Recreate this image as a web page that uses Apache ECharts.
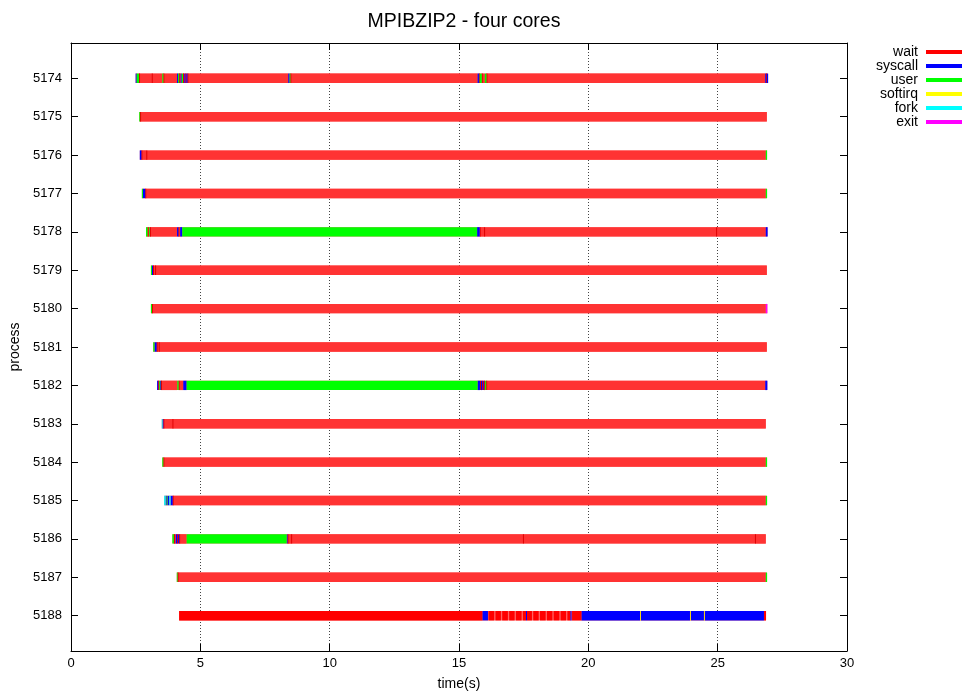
<!DOCTYPE html>
<html><head><meta charset="utf-8">
<script src="https://cdn.jsdelivr.net/npm/echarts@6/dist/echarts.min.js"></script>
<style>html,body{margin:0;padding:0;background:#fff}#c{width:967px;height:691px}</style>
</head><body><div id="c"></div>
<script>
// ---------- data ----------
const processes = ['5174','5175','5176','5177','5178','5179','5180','5181','5182','5183','5184','5185','5186','5187','5188'];
const states = ['wait','syscall','user','softirq','fork','exit'];
const W = 0, S = 1, U = 2, Q = 3, F = 4, X = 5;
const xTicks = [0, 5, 10, 15, 20, 25, 30];

// segments per process: [start (s), end (s), state]
const seg5174 = [[2.50,2.54,S],[2.54,2.63,U],[2.63,3.12,W],[3.12,3.53,W],[3.53,3.57,U],[3.57,4.10,W],
  [4.10,4.14,S],[4.14,4.18,U],[4.18,4.24,W],[4.24,4.28,S],[4.28,4.33,U],[4.33,4.38,W],[4.38,4.42,S],[4.42,4.46,W],[4.46,4.50,S],
  [4.50,8.40,W],[8.40,8.45,S],[8.45,8.48,U],[8.48,15.72,W],[15.72,15.77,S],[15.77,15.80,W],[15.80,15.88,U],[15.88,16.00,W],
  [16.00,16.06,U],[16.06,26.84,W],[26.84,26.87,S],[26.87,26.90,W],[26.90,26.95,S]];
const seg5175 = [[2.64,2.67,U],[2.67,26.90,W]];
const seg5176 = [[2.66,2.72,S],[2.72,2.91,W],[2.91,26.86,W],[26.86,26.91,U]];
const seg5177 = [[2.74,2.78,U],[2.78,2.87,S],[2.87,26.86,W],[26.86,26.91,U]];
const seg5178 = [[2.90,2.96,U],[2.96,3.02,W],[3.02,3.05,U],[3.05,4.10,W],[4.10,4.15,S],[4.15,4.22,W],[4.22,4.30,S],
  [4.30,15.70,U],[15.70,15.80,S],[15.80,15.97,W],[15.97,24.94,W],[24.94,26.86,W],[26.86,26.93,S]];
const seg5179 = [[3.09,3.13,U],[3.13,3.17,S],[3.17,3.25,W],[3.25,26.90,W]];
const seg5180 = [[3.09,3.13,U],[3.13,26.86,W],[26.86,26.92,X]];
const seg5181 = [[3.18,3.23,U],[3.23,3.31,S],[3.31,3.39,W],[3.39,26.90,W]];
const seg5182 = [[3.33,3.37,S],[3.37,3.41,W],[3.41,3.45,U],[3.45,3.48,S],[3.48,4.11,W],[4.11,4.16,U],[4.16,4.34,W],
  [4.34,4.47,S],[4.47,15.72,U],[15.72,15.81,S],[15.81,15.85,W],[15.85,15.89,S],[15.89,15.93,W],[15.93,15.96,S],
  [15.96,16.01,W],[16.01,16.05,U],[16.05,26.84,W],[26.84,26.92,S]];
const seg5183 = [[3.51,3.54,F],[3.54,3.57,S],[3.57,3.92,W],[3.92,26.86,W]];
const seg5184 = [[3.53,3.57,U],[3.57,26.86,W],[26.86,26.91,U]];
const seg5185 = [[3.60,3.66,F],[3.66,3.70,S],[3.70,3.73,U],[3.73,3.80,S],[3.80,3.85,F],[3.85,3.93,S],[3.93,26.86,W],[26.86,26.91,U]];
const seg5186 = [[3.92,3.98,U],[3.98,4.05,W],[4.05,4.10,S],[4.10,4.14,W],[4.14,4.18,S],[4.18,4.47,W],[4.47,8.34,U],
  [8.34,8.37,S],[8.37,8.51,W],[8.51,17.47,W],[17.47,26.44,W],[26.44,26.86,W]];
const seg5187 = [[4.09,4.12,U],[4.12,26.86,W],[26.86,26.91,U]];
const seg5188 = [[4.18,15.91,W],[15.91,16.12,S],[16.14,16.36,W],[16.41,16.62,W],[16.67,16.89,W],[16.94,17.15,W],
  [17.20,17.42,W],[17.47,17.59,W],[17.59,17.63,S],[17.63,17.82,W],[17.87,18.08,W],[18.13,18.35,W],[18.40,18.61,W],
  [18.66,18.88,W],[18.93,19.14,W],[19.19,19.31,W],[19.31,19.35,S],[19.37,19.74,W],[19.74,22.00,S],[22.00,22.03,Q],
  [22.03,23.93,S],[23.93,23.96,Q],[23.96,24.47,S],[24.47,24.50,Q],[24.50,26.79,S],[26.79,26.87,W]];
const segments = [seg5174,seg5175,seg5176,seg5177,seg5178,seg5179,seg5180,seg5181,seg5182,seg5183,seg5184,seg5185,seg5186,seg5187,seg5188];

// ---------- style ----------
const FONT = '"Liberation Sans", Arial, Helvetica, sans-serif';
const stateColors = ['#ff0000','#0000ff','#00ff00','#ffff00','#00ffff','#ff00ff'];
const waitFill = '#ff3333';
const waitMark = '#e00000';
const underlayFill = '#ff6464';
const solidRows = ['5188'];
const BAR = 0.245; // fraction of row spacing

function rowRect(api) {
  const i = api.value(2);
  const a = api.coord([api.value(0), i]);
  const b = api.coord([api.value(1), i]);
  const h = api.size([0, 1])[1] * BAR;
  return {x: a[0], y: a[1] - h / 2, width: Math.max(b[0] - a[0], 0.3), height: h};
}

function makeRender(k) {
  return function (params, api) {
    const r = rowRect(api);
    const solid = solidRows.indexOf(processes[api.value(2)]) >= 0;
    let fill = stateColors[k];
    if (k === W && !solid) fill = waitFill;
    const children = [{type: 'rect', shape: r, style: {fill: fill}}];
    if (k === W && !solid) {
      children.push({type: 'rect', shape: {x: r.x, y: r.y, width: 1, height: r.height}, style: {fill: waitMark}});
    }
    return {type: 'group', children: children};
  };
}

const series = [];
// underlay: row extent
const underlay = segments.map((segs, i) => {
  let mn = Infinity, mx = -Infinity;
  segs.forEach(s => { mn = Math.min(mn, s[0]); mx = Math.max(mx, s[1]); });
  return [mn, mx, i];
});
series.push({
  type: 'custom', name: '_bg', xAxisIndex: 0, yAxisIndex: 0, z: 1, silent: true,
  renderItem: function (params, api) {
    return {type: 'rect', shape: rowRect(api), style: {fill: underlayFill}};
  },
  encode: {x: [0, 1], y: 2}, data: underlay
});
states.forEach((name, k) => {
  const data = [];
  segments.forEach((segs, i) => segs.forEach(s => { if (s[2] === k) data.push([s[0], s[1], i]); }));
  series.push({
    type: 'custom', name: name, xAxisIndex: 0, yAxisIndex: 0, z: 2 + k, silent: true,
    itemStyle: {color: stateColors[k]},
    renderItem: makeRender(k),
    encode: {x: [0, 1], y: 2}, data: data
  });
});

const axisLineStyle = {show: true, onZero: false, lineStyle: {color: '#000', width: 1}};
const rowIdx = processes.map((p, i) => i);
const tickStyle = {show: true, inside: true, length: 7, lineStyle: {color: '#000', width: 1}};
const yMin = -0.92, yMax = 14.92;

const option = {
  animation: false,
  backgroundColor: '#fff',
  title: {
    text: 'MPIBZIP2 - four cores', left: 459, top: 7, textAlign: 'center',
    textStyle: {fontFamily: FONT, fontSize: 19.5, fontWeight: 'normal', color: '#000'}
  },
  legend: {
    orient: 'vertical', right: 5, top: 45, align: 'right', icon: 'rect', padding: 0,
    itemWidth: 36, itemHeight: 4, itemGap: 0, selectedMode: false,
    textStyle: {fontFamily: FONT, fontSize: 14, color: '#000', lineHeight: 14, padding: [0, 3, 0, 0]},
    data: states
  },
  grid: {left: 71, right: 120, top: 43, bottom: 40, containLabel: false, outerBoundsMode: 'none'},
  xAxis: [{
    type: 'value', position: 'bottom', min: xTicks[0], max: xTicks[xTicks.length - 1], interval: 5,
    axisLine: axisLineStyle,
    axisTick: tickStyle,
    axisLabel: {margin: 6, fontFamily: FONT, fontSize: 13, color: '#000'},
    splitLine: {show: true, showMinLine: false, showMaxLine: false, lineStyle: {color: '#444', type: [1, 2], width: 1}},
    name: 'time(s)', nameLocation: 'middle', nameGap: 26,
    nameTextStyle: {fontFamily: FONT, fontSize: 14, color: '#000'}
  }, {
    type: 'value', position: 'top', min: xTicks[0], max: xTicks[xTicks.length - 1], interval: 5,
    axisLine: axisLineStyle,
    axisTick: tickStyle,
    axisLabel: {show: false}, splitLine: {show: false}
  }],
  yAxis: [{
    type: 'value', inverse: true, min: yMin, max: yMax, position: 'left',
    axisLine: axisLineStyle,
    axisTick: {show: false},
    axisLabel: {margin: 9, fontFamily: FONT, fontSize: 13, color: '#000', customValues: rowIdx,
      formatter: v => processes[Math.round(v)] || ''},
    splitLine: {show: false},
    name: 'process', nameLocation: 'middle', nameGap: 47, nameRotate: 90,
    nameTextStyle: {fontFamily: FONT, fontSize: 14, color: '#000'}
  }, {
    type: 'value', inverse: true, min: yMin, max: yMax, position: 'right',
    axisLine: axisLineStyle,
    axisTick: Object.assign({customValues: rowIdx}, tickStyle),
    axisLabel: {show: false}, splitLine: {show: false}
  }, {
    type: 'value', inverse: true, min: yMin, max: yMax, position: 'left', offset: 0,
    axisLine: {show: false, onZero: false},
    axisTick: Object.assign({customValues: rowIdx}, tickStyle),
    axisLabel: {show: false}, splitLine: {show: false}
  }],
  series: series
};

const chart = echarts.init(document.getElementById('c'), null, {renderer: 'canvas'});
chart.setOption(option);
</script>
</body></html>
